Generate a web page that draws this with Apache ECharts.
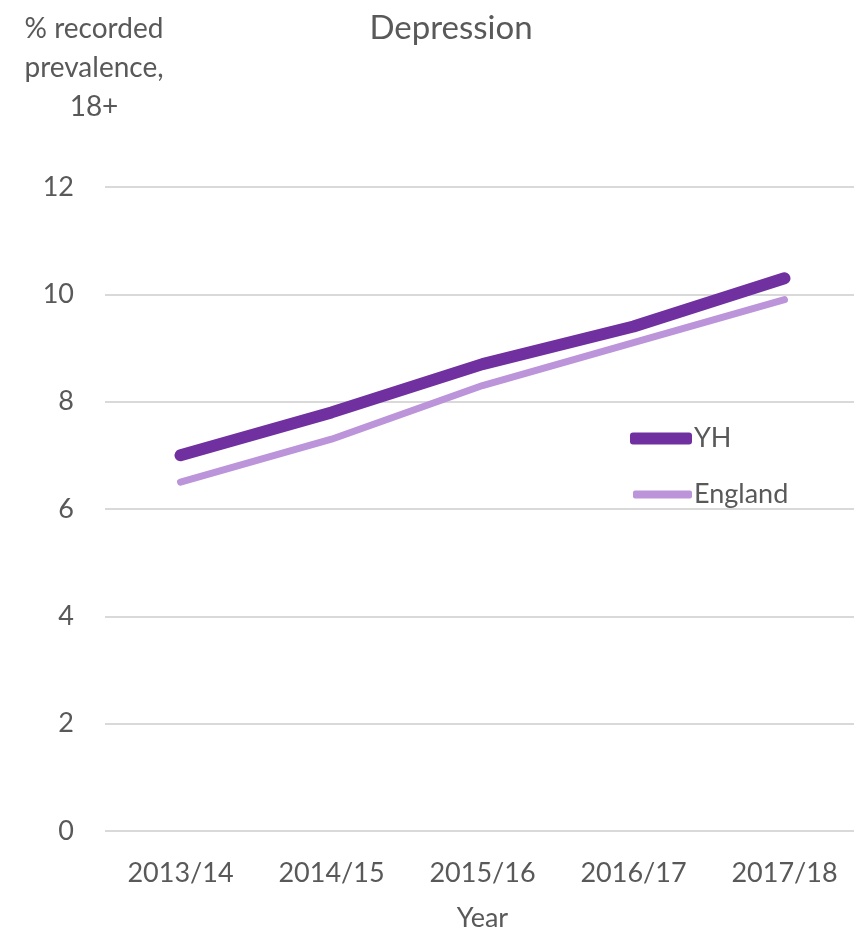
<!DOCTYPE html>
<html>
<head>
<meta charset="utf-8">
<script src="https://cdn.jsdelivr.net/npm/echarts@6/dist/echarts.min.js"></script>
<style>
  html, body { margin: 0; padding: 0; background: #fff; }
  #chart { width: 854px; height: 931px; }
</style>
</head>
<body>
<div id="chart"></div>
<script>
// Recorded depression prevalence (%), adults 18+
const years = ['2013/14', '2014/15', '2015/16', '2016/17', '2017/18'];
const yhValues = [7.0, 7.8, 8.7, 9.4, 10.3];
const englandValues = [6.5, 7.3, 8.3, 9.1, 9.9];
const yTicks = { min: 0, max: 12, interval: 2 };

const FONT = 'Lato, "Open Sans", sans-serif';
const TEXT = '#595959';
const YH_COLOR = '#7030A0';
const ENG_COLOR = '#BB94DA';

const chart = echarts.init(document.getElementById('chart'));
chart.setOption({
  backgroundColor: '#fff',
  animation: false,
  textStyle: { fontFamily: FONT },
  title: [
    {
      text: 'Depression',
      left: 446, top: 7, textAlign: 'center',
      textStyle: { fontFamily: FONT, fontSize: 33, fontWeight: 'normal', color: TEXT }
    },
    {
      text: '% recorded\nprevalence,\n18+',
      left: 89, top: 4, textAlign: 'center',
      textStyle: { fontFamily: FONT, fontSize: 28, fontWeight: 'normal', color: TEXT, lineHeight: 39 }
    }
  ],
  legend: [
    {
      data: [{ name: 'YH', icon: 'roundRect' }],
      left: 625, top: 420,
      itemWidth: 62, itemHeight: 12, itemGap: 0,
      textStyle: { fontFamily: FONT, fontSize: 27, color: TEXT, padding: [0, 0, 0, -3] }
    },
    {
      data: [{ name: 'England', icon: 'roundRect' }],
      left: 628, top: 476,
      itemWidth: 59, itemHeight: 8, itemGap: 0,
      textStyle: { fontFamily: FONT, fontSize: 27, color: TEXT, padding: [0, 0, 0, -3] }
    }
  ],
  grid: { left: 105, right: -6, top: 187, bottom: 100, containLabel: false, outerBoundsMode: 'none' },
  xAxis: {
    type: 'category',
    data: years,
    boundaryGap: true,
    name: 'Year',
    nameLocation: 'middle',
    nameGap: 74,
    nameTextStyle: { fontFamily: FONT, fontSize: 27, color: TEXT },
    axisLine: { show: false },
    axisTick: { show: false },
    axisLabel: { fontFamily: FONT, fontSize: 27, color: TEXT, margin: 29 }
  },
  yAxis: {
    type: 'value',
    min: yTicks.min, max: yTicks.max, interval: yTicks.interval,
    axisLine: { show: false },
    axisTick: { show: false },
    axisLabel: { fontFamily: FONT, fontSize: 27, color: TEXT, margin: 31 },
    splitLine: { lineStyle: { color: '#D9D9D9', width: 2 } }
  },
  series: [
    {
      name: 'YH', type: 'line', data: yhValues,
      symbol: 'none', smooth: false,
      lineStyle: { color: YH_COLOR, width: 12, cap: 'round', join: 'round' },
      itemStyle: { color: YH_COLOR },
      z: 3
    },
    {
      name: 'England', type: 'line', data: englandValues,
      symbol: 'none', smooth: false,
      lineStyle: { color: ENG_COLOR, width: 7, cap: 'round', join: 'round' },
      itemStyle: { color: ENG_COLOR },
      z: 2
    }
  ]
});
</script>
</body>
</html>
